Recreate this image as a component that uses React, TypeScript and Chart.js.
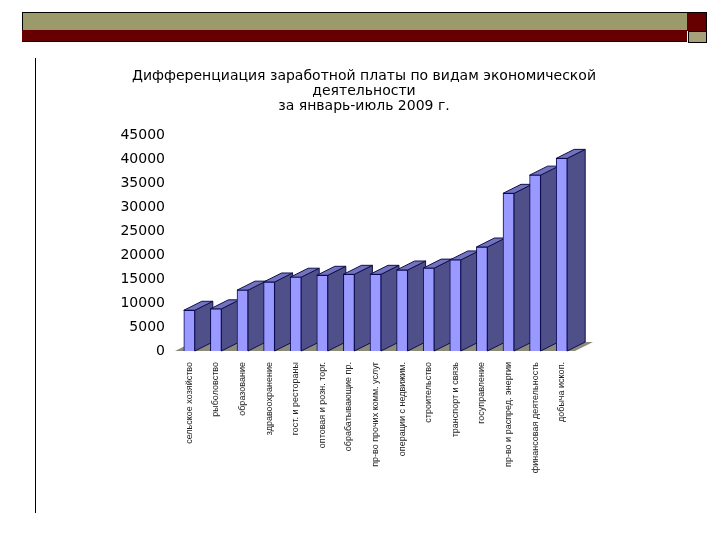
import React, { useEffect, useRef } from "react";
import { Chart, registerables } from "chart.js";

Chart.register(...registerables);

const categories = [
  "сельское хозяйство",
  "рыболовство",
  "образование",
  "здравоохранение",
  "гост. и рестораны",
  "оптовая и розн. торг.",
  "обрабатывающие пр.",
  "пр-во прочих комм. услуг",
  "операции с недвижим.",
  "строительство",
  "транспорт и связь",
  "госуправление",
  "пр-во и распред. энергии",
  "финансовая деятельность",
  "добыча ископ.",
];
const wages = [
  8500, 8800, 12700, 14400, 15400, 15800, 16000, 16000, 16900, 17300, 19000,
  21700, 32900, 36700, 40200,
];
const titleLines = [
  "Дифференциация заработной платы по видам экономической",
  "деятельности",
  "за январь-июль 2009 г.",
];

const DX = 18;
const DY = 9;

const boxes3d = {
  id: "boxes3d",
  beforeDatasetsDraw(chart: any) {
    const { ctx, chartArea } = chart;
    const { left, right, bottom } = chartArea;
    ctx.save();
    ctx.fillStyle = "#8b8b7b";
    ctx.beginPath();
    ctx.moveTo(left - 1, bottom);
    ctx.lineTo(right, bottom);
    ctx.lineTo(right + DX, bottom - DY);
    ctx.lineTo(left + DX - 1, bottom - DY);
    ctx.closePath();
    ctx.fill();
    ctx.lineJoin = "round";
    ctx.lineWidth = 1;
    ctx.strokeStyle = "#10104a";
    chart.getDatasetMeta(0).data.forEach((bar: any) => {
      const { x, y, base, width } = bar.getProps(["x", "y", "base", "width"], true);
      const l = x - width / 2;
      const r = x + width / 2;
      ctx.fillStyle = "#4f4f8a";
      ctx.beginPath();
      ctx.moveTo(r, y);
      ctx.lineTo(r + DX, y - DY);
      ctx.lineTo(r + DX, base - DY);
      ctx.lineTo(r, base);
      ctx.closePath();
      ctx.fill();
      ctx.stroke();
      ctx.fillStyle = "#7272bf";
      ctx.beginPath();
      ctx.moveTo(l, y);
      ctx.lineTo(l + DX, y - DY);
      ctx.lineTo(r + DX, y - DY);
      ctx.lineTo(r, y);
      ctx.closePath();
      ctx.fill();
      ctx.stroke();
    });
    ctx.restore();
  },
};

export default function App() {
  const ref = useRef<HTMLCanvasElement>(null);
  useEffect(() => {
    const chart = new Chart(ref.current!, {
      type: "bar",
      data: {
        labels: categories,
        datasets: [
          {
            data: wages,
            backgroundColor: "#9999ff",
            borderColor: "#0a0a50",
            borderWidth: 1,
            barThickness: 11,
          },
        ],
      },
      options: {
        animation: false,
        responsive: false,
        devicePixelRatio: 1,
        layout: { padding: { top: 69, right: 0, bottom: 59, left: 8 } },
        plugins: {
          legend: { display: false },
          tooltip: { enabled: false },
          title: {
            display: true,
            text: titleLines,
            color: "#000",
            align: "center",
            fullSize: true,
            font: { family: "DejaVu Sans", size: 14, weight: "normal", lineHeight: 1.08 },
            padding: { top: 0, bottom: 21 },
          },
        },
        scales: {
          x: {
            grid: { display: false },
            border: { display: false },
            afterFit(scale: any) {
              scale.height = 130;
            },
            ticks: {
              autoSkip: false,
              minRotation: 90,
              maxRotation: 90,
              padding: 3,
              color: "#222",
              font: { family: "Liberation Sans", size: 9 },
            },
          },
          y: {
            min: 0,
            max: 45000,
            grid: { display: false, drawTicks: false },
            border: { display: false },
            afterFit(scale: any) {
              scale.width = 168;
            },
            ticks: {
              stepSize: 5000,
              padding: 11,
              color: "#000",
              font: { family: "DejaVu Sans", size: 14 },
              callback: (v: any) => String(v),
            },
          },
          spacer: {
            type: "linear",
            position: "right",
            min: 0,
            max: 1,
            grid: { display: false, drawTicks: false },
            border: { display: false },
            ticks: { display: false },
            afterFit(scale: any) {
              scale.width = 145;
            },
          },
        },
      },
      plugins: [boxes3d],
    } as any);
    return () => chart.destroy();
  }, []);

  return (
    <div style={{ position: "fixed", left: 0, top: 0, width: 720, height: 540, background: "#fff", overflow: "hidden" }}>
      <div style={{ position: "absolute", left: 22, top: 12, width: 665, height: 17, background: "#9c9a6b", border: "1px solid #000", borderBottom: "none" }} />
      <div style={{ position: "absolute", left: 22, top: 30, width: 665, height: 11, background: "#660000", borderBottom: "1px solid #000" }} />
      <div style={{ position: "absolute", left: 687, top: 12, width: 19, height: 18, background: "#660000", borderTop: "1px solid #000", borderRight: "1px solid #000" }} />
      <div style={{ position: "absolute", left: 688, top: 31, width: 17, height: 10, background: "#a8a078", border: "1px solid #000" }} />
      <div style={{ position: "absolute", left: 35, top: 58, width: 1, height: 455, background: "#000" }} />
      <canvas ref={ref} width={720} height={540} style={{ position: "absolute", left: 0, top: 0, display: "block" }} />
    </div>
  );
}
